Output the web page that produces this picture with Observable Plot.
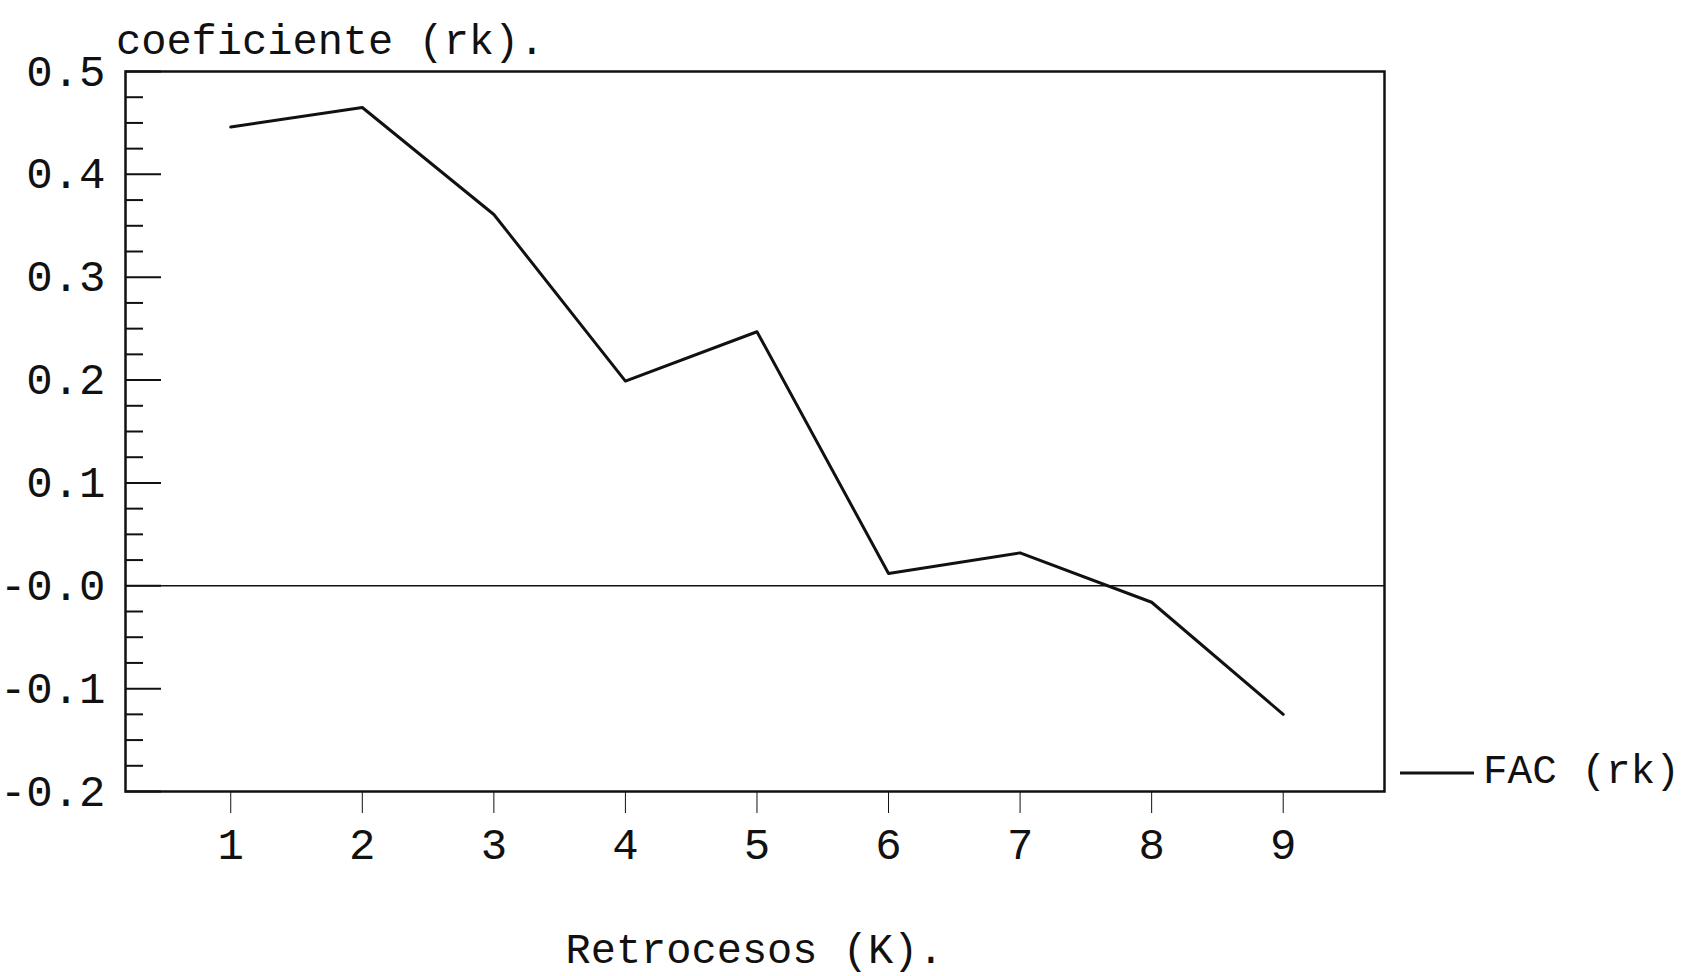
<!DOCTYPE html>
<html>
<head>
<meta charset="utf-8">
<script src="https://cdn.jsdelivr.net/npm/d3@7"></script>
<script src="https://cdn.jsdelivr.net/npm/@observablehq/plot@0.6"></script>
<style>
  html, body { margin: 0; padding: 0; background: #fff; }
  #wrap { position: relative; width: 1691px; height: 976px; font-family: "Liberation Mono", "DejaVu Sans Mono", monospace; color: #111; }
  .lbl { position: absolute; white-space: nowrap; line-height: 1; }
  #title { left: 116px; top: 22px; font-size: 42px; }
  #xlabel { left: 0; width: 1509px; text-align: center; top: 931px; font-size: 42px; }
  #legend { left: 1400px; top: 752px; font-size: 41px; display: flex; align-items: center; }
</style>
</head>
<body>
<div id="wrap">
  <div id="chart"></div>
  <div class="lbl" id="title">coeficiente (rk).</div>
  <div class="lbl" id="xlabel">Retrocesos (K).</div>
  <div class="lbl" id="legend"><svg width="80" height="10" style="margin-right:3px"><line x1="0" x2="74" y1="5" y2="5" stroke="#111" stroke-width="3"/></svg><span>FAC (rk)</span></div>
</div>
<script>
// Data
const lags = [1, 2, 3, 4, 5, 6, 7, 8, 9];
const fac = [0.446, 0.465, 0.361, 0.199, 0.247, 0.012, 0.032, -0.016, -0.125];
const yMajorTicks = [0.5, 0.4, 0.3, 0.2, 0.1, 0.0, -0.1, -0.2];
const yMinorTicks = [0.475, 0.45, 0.425, 0.375, 0.35, 0.325, 0.275, 0.25, 0.225, 0.175, 0.15, 0.125,
  0.075, 0.05, 0.025, -0.025, -0.05, -0.075, -0.125, -0.15, -0.175];
const xTicks = lags;

const rows = lags.map((k, i) => ({k, r: fac[i]}));
const fmtY = d => (d <= 0 ? "-" : "") + Math.abs(d).toFixed(1);

const chart = Plot.plot({
  width: 1691,
  height: 976,
  marginLeft: 125,
  marginRight: 307,
  marginTop: 71,
  marginBottom: 185,
  style: {fontFamily: "'Liberation Mono', 'DejaVu Sans Mono', monospace", fontSize: "44px", background: "#fff", color: "#111"},
  x: {domain: [0.2, 9.77]},
  y: {domain: [-0.2, 0.5]},
  marks: [
    Plot.ruleY([0], {strokeWidth: 1.5}),
    Plot.axisY(yMinorTicks, {tickSize: -18, text: null, label: null, strokeWidth: 2}),
    Plot.axisY(yMajorTicks, {tickSize: -36, text: null, label: null, strokeWidth: 2}),
    Plot.axisY(yMajorTicks, {tickSize: 0, tickPadding: 20, tickFormat: fmtY, label: null, fontSize: 44}),
    Plot.axisX(xTicks, {tickSize: 22, tickPadding: 14, label: null, fontSize: 44, tickFormat: d => String(d)}),
    Plot.line(rows, {x: "k", y: "r", strokeWidth: 3, stroke: "#111"}),
    Plot.frame({strokeWidth: 2.5, stroke: "#111"})
  ]
});
document.getElementById("chart").appendChild(chart);
</script>
</body>
</html>
